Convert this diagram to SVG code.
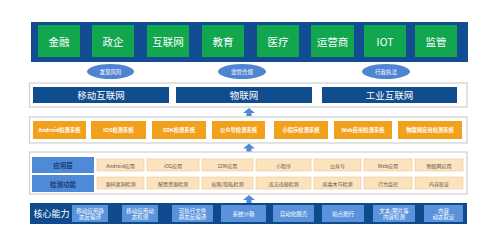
<svg xmlns="http://www.w3.org/2000/svg" width="499" height="248" viewBox="0 0 499 248">
<style>
text{font-family:"Noto Sans CJK SC","Liberation Sans",sans-serif;text-anchor:middle;dominant-baseline:central}
.band{fill:#124c91}
.green{fill:#12a64f}
.gt{fill:#fff;font-size:10.5px}
.ell{fill:#4f84d3}
.et{fill:#fff;font-size:5.5px}
.frame{fill:#fff;stroke:#cfcfcf;stroke-width:1.2}
.ban{fill:#0f4d8e}
.bt{fill:#fff;font-size:9.5px}
.or{fill:#f2a11c}
.ot{fill:#fff;font-size:5.3px;font-weight:bold}
.lab{fill:#4f8ad8}
.lt{fill:#1a3d73;font-size:6.5px;font-weight:bold}
.pe{fill:#fde3bd;stroke:#e8c99a;stroke-width:0.6}
.pt{fill:#555;font-size:5px}
.core{fill:#0f4a8d}
.cb{fill:#5a93dc}
.ct{fill:#fff;font-size:5.5px}
.arr{fill:#4f8ad8}
</style>
<g id="industries">
<rect class="band" x="31" y="22" width="437" height="40"/>
<g id="n-jinrong"><rect class="green" x="38" y="25" width="42" height="32"/><text class="gt" x="59" y="41">金融</text></g>
<g id="n-zhengqi"><rect class="green" x="92" y="25" width="42" height="32"/><text class="gt" x="113" y="41">政企</text></g>
<g id="n-hulianwang"><rect class="green" x="147" y="25" width="42" height="32"/><text class="gt" x="168" y="41">互联网</text></g>
<g id="n-jiaoyu"><rect class="green" x="202" y="25" width="42" height="32"/><text class="gt" x="223" y="41">教育</text></g>
<g id="n-yiliao"><rect class="green" x="257" y="25" width="42" height="32"/><text class="gt" x="278" y="41">医疗</text></g>
<g id="n-yunyingshang"><rect class="green" x="311" y="25" width="43" height="32"/><text class="gt" x="332.5" y="41">运营商</text></g>
<g id="n-iot"><rect class="green" x="364" y="25" width="42" height="32"/><text class="gt" x="385" y="41">IOT</text></g>
<g id="n-jianguan"><rect class="green" x="415" y="25" width="42" height="32"/><text class="gt" x="436" y="41">监管</text></g>
</g>
<g id="goals">
<g id="e-faxian"><ellipse class="ell" cx="110.5" cy="71.5" rx="23.5" ry="7.5"/><text class="et" x="110.5" y="71.5">发现风险</text></g>
<g id="e-jianguan"><ellipse class="ell" cx="242" cy="71.5" rx="24" ry="7.5"/><text class="et" x="242" y="71.5">监管合规</text></g>
<g id="e-xingzheng"><ellipse class="ell" cx="386" cy="71.5" rx="24" ry="7.5"/><text class="et" x="386" y="71.5">行政执法</text></g>
</g>
<g id="domains">
<rect class="frame" x="29.5" y="83" width="437.5" height="24"/>
<g id="b-mobile"><rect class="ban" x="33" y="87" width="136" height="16"/><text class="bt" x="101" y="95">移动互联网</text></g>
<g id="b-iot"><rect class="ban" x="176" y="87" width="136" height="16"/><text class="bt" x="244" y="95">物联网</text></g>
<g id="b-industrial"><rect class="ban" x="322" y="87" width="135" height="16"/><text class="bt" x="389.5" y="95">工业互联网</text></g>
</g>
<g id="systems">
<rect class="frame" x="29.5" y="117" width="437.5" height="26"/>
<g id="s-android"><rect class="or" x="33" y="121" width="53" height="18"/><text class="ot" x="59.5" y="130">Android检测系统</text></g>
<g id="s-ios"><rect class="or" x="91" y="121" width="55" height="18"/><text class="ot" x="118.5" y="130">IOS检测系统</text></g>
<g id="s-sdk"><rect class="or" x="152" y="121" width="54" height="18"/><text class="ot" x="179" y="130">SDK检测系统</text></g>
<g id="s-gzh"><rect class="or" x="212" y="121" width="53" height="18"/><text class="ot" x="238.5" y="130">公众号检测系统</text></g>
<g id="s-xcx"><rect class="or" x="274" y="121" width="54" height="18"/><text class="ot" x="301" y="130">小程序检测系统</text></g>
<g id="s-web"><rect class="or" x="334" y="121" width="58" height="18"/><text class="ot" x="363" y="130">Web应用检测系统</text></g>
<g id="s-wlw"><rect class="or" x="398" y="121" width="64" height="18"/><text class="ot" x="430" y="130">物联网应用检测系统</text></g>
</g>
<g id="detection">
<rect class="frame" x="29.5" y="152" width="437.5" height="42"/>
<g id="l-app"><rect class="lab" x="32" y="157" width="62" height="16"/><text class="lt" x="63" y="165">应用层</text></g>
<g id="l-func"><rect class="lab" x="32" y="175" width="62" height="17"/><text class="lt" x="63" y="183.5">检测功能</text></g>
<g id="r1">
<rect class="pe" x="97" y="159" width="47" height="12"/><text class="pt" x="120.5" y="165">Android应用</text>
<rect class="pe" x="147" y="159" width="52" height="12"/><text class="pt" x="173" y="165">iOS应用</text>
<rect class="pe" x="202" y="159" width="51" height="12"/><text class="pt" x="227.5" y="165">SDK应用</text>
<rect class="pe" x="256" y="159" width="55" height="12"/><text class="pt" x="283.5" y="165">小程序</text>
<rect class="pe" x="314" y="159" width="47" height="12"/><text class="pt" x="337.5" y="165">公众号</text>
<rect class="pe" x="364" y="159" width="48" height="12"/><text class="pt" x="388" y="165">Web应用</text>
<rect class="pe" x="415" y="159" width="48" height="12"/><text class="pt" x="439" y="165">物联网应用</text>
</g>
<g id="r2">
<rect class="pe" x="97" y="177" width="47" height="12"/><text class="pt" x="120.5" y="183">源码漏洞检测</text>
<rect class="pe" x="147" y="177" width="52" height="12"/><text class="pt" x="173" y="183">配置资源检测</text>
<rect class="pe" x="202" y="177" width="51" height="12"/><text class="pt" x="227.5" y="183">权限/隐私检测</text>
<rect class="pe" x="256" y="177" width="55" height="12"/><text class="pt" x="283.5" y="183">违法违规检测</text>
<rect class="pe" x="314" y="177" width="47" height="12"/><text class="pt" x="337.5" y="183">病毒木马检测</text>
<rect class="pe" x="364" y="177" width="48" height="12"/><text class="pt" x="388" y="183">行为监控</text>
<rect class="pe" x="415" y="177" width="48" height="12"/><text class="pt" x="439" y="183">内容取证</text>
</g>
</g>
<g id="core">
<rect class="core" x="30" y="203" width="437" height="21"/>
<text x="51.5" y="213.5" style="fill:#fff;font-size:9px">核心能力</text>
<g id="c1"><rect class="cb" x="72" y="205" width="36" height="17"/><text class="ct" x="90" y="210.5">移动应用静</text><text class="ct" x="90" y="217">态反编译</text></g>
<g id="c2"><rect class="cb" x="122" y="205" width="36" height="17"/><text class="ct" x="140" y="210.5">移动应用动</text><text class="ct" x="140" y="217">态检测</text></g>
<g id="c3"><rect class="cb" x="172" y="205" width="41" height="17"/><text class="ct" x="192.5" y="210.5">可执行文件</text><text class="ct" x="192.5" y="217">静态反编译</text></g>
<g id="c4"><rect class="cb" x="221" y="205" width="45" height="17"/><text class="ct" x="243.5" y="213.5">系统沙箱</text></g>
<g id="c5"><rect class="cb" x="273" y="205" width="41" height="17"/><text class="ct" x="293.5" y="213.5">自动化脱壳</text></g>
<g id="c6"><rect class="cb" x="322" y="205" width="42" height="17"/><text class="ct" x="343" y="213.5">站点爬行</text></g>
<g id="c7"><rect class="cb" x="373" y="205" width="42" height="17"/><text class="ct" x="394" y="210.5">文本/图片等</text><text class="ct" x="394" y="217">内容检测</text></g>
<g id="c8"><rect class="cb" x="424" y="205" width="39" height="17"/><text class="ct" x="443.5" y="210.5">内容</text><text class="ct" x="443.5" y="217">动态取证</text></g>
</g>
<g id="connectors">
<polygon class="arr" points="249,108 255,113 251.5,113 251.5,116 246.5,116 246.5,113 243,113"/>
<polygon class="arr" points="249,143.5 255,148.5 251.5,148.5 251.5,151.5 246.5,151.5 246.5,148.5 243,148.5"/>
<polygon class="arr" points="249,195 255,200 251.5,200 251.5,203 246.5,203 246.5,200 243,200"/>
</g>
</svg>
